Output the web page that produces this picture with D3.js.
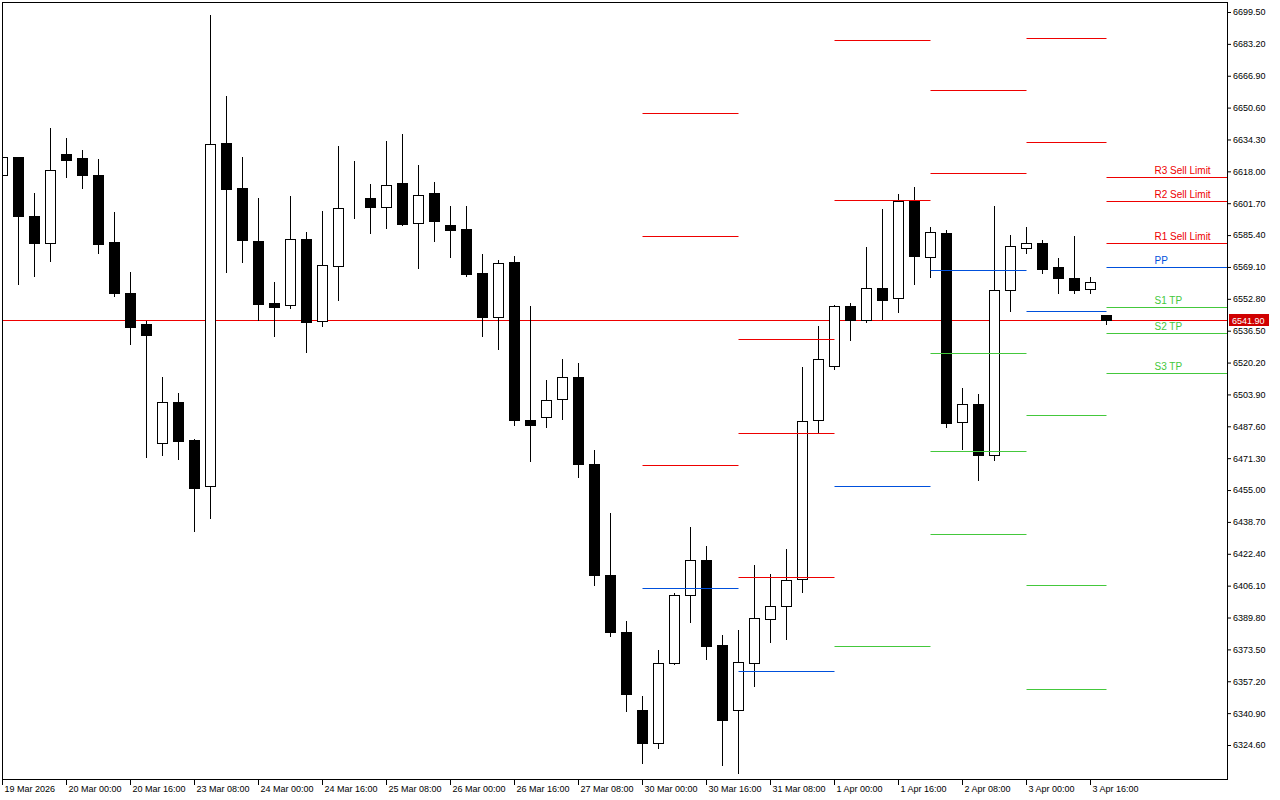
<!DOCTYPE html>
<html>
<head>
<meta charset="utf-8">
<script src="https://cdnjs.cloudflare.com/ajax/libs/d3/7.8.5/d3.min.js"></script>
<style>
    body { margin: 0; background: #fff; }
    svg { display: block; font-family: "Liberation Sans", Arial, sans-serif; }
</style>
</head>
<body>
<div id="chart"></div>
<script>
// H4 candles, 19 Mar 08:00 -> 3 Apr 20:00
var opens = [6616.0, 6625.2, 6595.1, 6581.6, 6626.7, 6624.7, 6616.0, 6581.8, 6555.7, 6539.9,
    6479.0, 6500.1, 6480.7, 6457.0, 6632.3, 6609.4, 6582.3, 6550.6, 6549.4, 6583.3,
    6541.3, 6569.4, 6604.6, 6604.6, 6600.0, 6611.9, 6591.8, 6606.8, 6590.5, 6588.4,
    6565.9, 6543.3, 6571.6, 6490.9, 6492.2, 6501.4, 6512.8, 6468.4, 6411.7, 6382.4,
    6342.6, 6325.7, 6366.6, 6401.1, 6419.4, 6376.0, 6342.6, 6366.6, 6389.1, 6395.5,
    6409.5, 6490.7, 6518.6, 6549.1, 6542.1, 6558.1, 6553.0, 6602.6, 6574.0, 6586.7,
    6490.0, 6498.9, 6473.1, 6557.1, 6578.6, 6581.6, 6568.9, 6563.2, 6557.6, 6544.5];

var highs = [6628.8, 6625.5, 6606.8, 6640.0, 6634.9, 6628.8, 6624.2, 6597.1, 6566.5, 6541.6,
    6512.8, 6504.7, 6481.2, 6698.2, 6656.3, 6625.2, 6604.2, 6561.3, 6605.3, 6586.9,
    6597.6, 6630.8, 6623.5, 6611.4, 6633.7, 6636.9, 6621.1, 6612.4, 6600.2, 6600.2,
    6575.6, 6572.6, 6574.6, 6549.1, 6511.3, 6522.0, 6520.0, 6475.5, 6443.4, 6388.2,
    6349.9, 6373.2, 6402.5, 6436.2, 6426.5, 6381.1, 6383.6, 6416.8, 6412.2, 6425.0,
    6517.9, 6538.9, 6549.6, 6550.5, 6579.2, 6598.6, 6606.3, 6609.9, 6589.4, 6587.8,
    6507.2, 6504.1, 6600.2, 6585.4, 6589.4, 6582.8, 6573.6, 6584.8, 6563.9, 6544.6];

var lows = [6613.4, 6560.3, 6564.6, 6572.2, 6615.1, 6609.5, 6576.3, 6554.3, 6529.8, 6472.1,
    6473.0, 6470.8, 6434.3, 6440.5, 6566.6, 6571.7, 6541.9, 6533.9, 6548.2, 6525.4,
    6539.0, 6552.3, 6594.2, 6586.5, 6589.1, 6590.6, 6568.7, 6582.4, 6574.3, 6564.6,
    6533.9, 6527.3, 6488.5, 6469.6, 6487.4, 6491.5, 6461.9, 6406.6, 6380.2, 6341.9,
    6315.3, 6323.0, 6365.9, 6387.3, 6368.8, 6314.3, 6310.2, 6354.7, 6377.1, 6378.7,
    6402.7, 6484.9, 6517.1, 6531.9, 6541.1, 6542.6, 6546.2, 6560.5, 6564.1, 6487.4,
    6476.2, 6459.9, 6470.6, 6546.7, 6576.3, 6566.1, 6555.9, 6555.9, 6555.9, 6540.1];

var closes = [6625.2, 6595.2, 6581.4, 6618.9, 6623.7, 6616.1, 6580.9, 6555.7, 6538.5, 6534.4,
    6499.9, 6480.3, 6456.3, 6631.8, 6609.0, 6583.0, 6550.3, 6548.7, 6583.2, 6541.1,
    6569.9, 6599.5, 6604.6, 6599.8, 6611.2, 6591.1, 6606.1, 6592.7, 6588.1, 6565.4,
    6543.6, 6570.9, 6491.0, 6488.5, 6500.9, 6512.7, 6468.5, 6411.3, 6382.2, 6350.6,
    6325.5, 6366.6, 6401.3, 6419.2, 6375.1, 6337.3, 6367.1, 6389.6, 6395.7, 6409.0,
    6490.2, 6521.9, 6549.1, 6542.1, 6558.1, 6552.3, 6602.6, 6574.8, 6587.2, 6489.5,
    6498.9, 6473.1, 6557.1, 6579.6, 6581.6, 6568.1, 6563.5, 6557.4, 6561.2, 6541.9];

// time axis labels (every 4th bar)
var tickBars = [0, 4, 8, 12, 16, 20, 24, 28, 32, 36, 40, 44, 48, 52, 56, 60, 64, 68];
var tickLabels = ["19 Mar 2026", "20 Mar 00:00", "20 Mar 16:00", "23 Mar 08:00", "24 Mar 00:00",
    "24 Mar 16:00", "25 Mar 08:00", "26 Mar 00:00", "26 Mar 16:00", "27 Mar 08:00",
    "30 Mar 00:00", "30 Mar 16:00", "31 Mar 08:00", "1 Apr 00:00", "1 Apr 16:00",
    "2 Apr 08:00", "3 Apr 00:00", "3 Apr 16:00"];

// price axis
var priceTicks = d3.range(24).map(function (k) { return 6324.6 + 16.3 * k; });
var bid = 6541.9;

// daily pivot levels (bar index ranges)
var pivotStart = [40, 46, 52, 58, 64];
var pivotEnd = [46, 52, 58, 64, 69];
var pivotR3 = [6647.7, 6532.1, 6685.3, 6659.8, 6686.3];
var pivotR2 = [6584.7, 6484.1, 6603.6, 6617.4, 6633.2];
var pivotR1 = [6467.7, 6410.5, null, null, null];
var pivotPP = [6404.9, 6362.5, 6457.0, 6567.3, 6546.4];
var pivotS1 = [null, null, 6375.3, 6524.9, 6493.3];
var pivotS2 = [null, null, null, 6474.9, 6406.4];
var pivotS3 = [null, null, null, 6432.5, 6353.3];

// today's levels
var levelNames = ["R3 Sell Limit", "R2 Sell Limit", "R1 Sell Limit", "PP", "S1 TP", "S2 TP", "S3 TP"];
var levelPrices = [6615.3, 6602.6, 6581.6, 6568.9, 6548.4, 6535.1, 6514.7];

var RED = "#ee0000", BLUE = "#0050dc", GREEN = "#44c83c";

var W = 1280, H = 800;
var plot = { left: 2.5, top: 2.5, right: 1227.5, bottom: 779.5 };

var svg = d3.select("#chart").append("svg")
    .attr("width", W)
    .attr("height", H);

svg.append("rect").attr("width", W).attr("height", H).attr("fill", "#fff");

var x = d3.scaleLinear().domain([0, opens.length - 1]).range([2, 1106]);
var y = d3.scaleLinear().domain([6324.6, 6699.5]).range([745, 12]);

function px(i) { return x(i) + 0.5; }
function py(v) { return Math.round(y(v)) + 0.5; }

svg.append("clipPath").attr("id", "clip")
    .append("rect")
    .attr("x", plot.left).attr("y", plot.top)
    .attr("width", plot.right - plot.left).attr("height", plot.bottom - plot.top);

var g = svg.append("g").attr("clip-path", "url(#clip)");

// bid line (behind the bars)
g.append("line")
    .attr("x1", plot.left).attr("x2", plot.right)
    .attr("y1", py(bid)).attr("y2", py(bid))
    .attr("stroke", RED).attr("stroke-width", 1);

var candles = opens.map(function (o, i) {
    return { i: i, o: o, h: highs[i], l: lows[i], c: closes[i] };
});

// wicks
g.selectAll(".wick").data(candles).enter().append("line")
    .attr("class", "wick")
    .attr("x1", function (d) { return px(d.i); })
    .attr("x2", function (d) { return px(d.i); })
    .attr("y1", function (d) { return Math.round(y(d.h)); })
    .attr("y2", function (d) { return Math.round(y(d.l)) + 1; })
    .attr("stroke", "#000").attr("stroke-width", 1);

// bodies
g.selectAll(".body").data(candles).enter().append("rect")
    .attr("class", "body")
    .attr("x", function (d) { return px(d.i) - 5; })
    .attr("y", function (d) { return py(Math.max(d.o, d.c)); })
    .attr("width", 10)
    .attr("height", function (d) { return py(Math.min(d.o, d.c)) - py(Math.max(d.o, d.c)); })
    .attr("fill", function (d) { return d.c < d.o ? "#000" : "#fff"; })
    .attr("stroke", "#000").attr("stroke-width", 1);

// past pivot segments
var pivotSets = [
    [pivotR3, RED], [pivotR2, RED], [pivotR1, RED], [pivotPP, BLUE],
    [pivotS1, GREEN], [pivotS2, GREEN], [pivotS3, GREEN]
];
var segs = [];
pivotSets.forEach(function (s) {
    s[0].forEach(function (v, k) {
        if (v !== null) segs.push({ a: pivotStart[k], b: pivotEnd[k], v: v, col: s[1] });
    });
});

g.selectAll(".pivot").data(segs).enter().append("line")
    .attr("class", "pivot")
    .attr("x1", function (d) { return px(d.a); })
    .attr("x2", function (d) { return px(d.b); })
    .attr("y1", function (d) { return py(d.v); })
    .attr("y2", function (d) { return py(d.v); })
    .attr("stroke", function (d) { return d.col; }).attr("stroke-width", 1);

// today's levels with labels
function levelColor(i) { return i < 3 ? RED : (i === 3 ? BLUE : GREEN); }
var lastX = px(opens.length - 1);

g.selectAll(".level").data(levelPrices).enter().append("line")
    .attr("class", "level")
    .attr("x1", lastX).attr("x2", plot.right)
    .attr("y1", function (d) { return py(d); })
    .attr("y2", function (d) { return py(d); })
    .attr("stroke", function (d, i) { return levelColor(i); }).attr("stroke-width", 1);

g.selectAll(".level_text").data(levelPrices).enter().append("text")
    .attr("class", "level_text")
    .attr("x", lastX + 48)
    .attr("y", function (d) { return py(d) - 4; })
    .attr("font-size", 10)
    .attr("fill", function (d, i) { return levelColor(i); })
    .text(function (d, i) { return levelNames[i]; });

// frame
svg.append("rect")
    .attr("x", plot.left).attr("y", plot.top)
    .attr("width", plot.right - plot.left).attr("height", plot.bottom - plot.top)
    .attr("fill", "none").attr("stroke", "#000").attr("stroke-width", 1);

// price axis
var yAxis = d3.axisRight(y)
    .tickValues(priceTicks)
    .tickFormat(d3.format(".2f"))
    .tickSize(4)
    .tickPadding(2);

var ya = svg.append("g")
    .attr("class", "y_axis")
    .attr("transform", "translate(1227,0)")
    .call(yAxis);
ya.select(".domain").remove();
ya.selectAll("text").attr("font-size", 9).attr("font-family", "Liberation Sans, Arial, sans-serif").attr("fill", "#000");
ya.selectAll("line").attr("stroke", "#000");

// time axis
var xAxis = d3.axisBottom(x)
    .tickValues(tickBars)
    .tickFormat(function (d, i) { return tickLabels[i]; })
    .tickSize(5)
    .tickPadding(1);

var xa = svg.append("g")
    .attr("class", "x_axis")
    .attr("transform", "translate(0,780)")
    .call(xAxis);
xa.select(".domain").remove();
xa.selectAll("text")
    .attr("font-size", 9)
    .attr("font-family", "Liberation Sans, Arial, sans-serif")
    .attr("fill", "#000")
    .attr("text-anchor", "start")
    .attr("x", 2);
xa.selectAll("line").attr("stroke", "#000");

// bid price tag
svg.append("rect")
    .attr("x", 1229).attr("y", py(bid) - 6.5)
    .attr("width", 40).attr("height", 12)
    .attr("fill", "#d00000");
svg.append("text")
    .attr("x", 1232).attr("y", py(bid) + 3.5)
    .attr("font-size", 9)
    .attr("fill", "#fff")
    .text(d3.format(".2f")(bid));
</script>
</body>
</html>
